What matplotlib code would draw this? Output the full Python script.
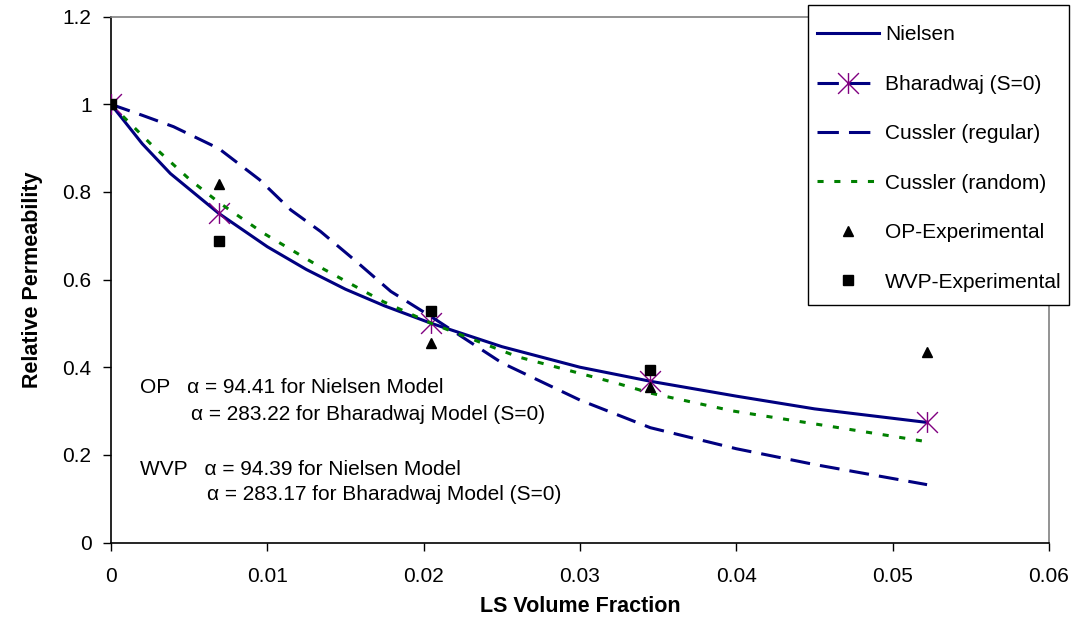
import matplotlib
matplotlib.use("Agg")
import matplotlib.pyplot as plt
from matplotlib.path import Path
from matplotlib.lines import Line2D
from matplotlib.patches import Rectangle
from matplotlib.ticker import FuncFormatter

plt.rcParams['font.family'] = ['Liberation Sans', 'DejaVu Sans']

# Model curves
nielsen_x = [0, 0.002, 0.0038, 0.0069, 0.01, 0.0125, 0.015, 0.0175, 0.0205,
             0.025, 0.03, 0.0345, 0.04, 0.045, 0.0522]
nielsen_y = [1.0, 0.91, 0.842, 0.751, 0.675, 0.623, 0.578, 0.54, 0.50,
             0.447, 0.40, 0.368, 0.334, 0.305, 0.274]

bharadwaj_x = [0, 0.0069, 0.0205, 0.0345, 0.0522]
bharadwaj_y = [1.0, 0.751, 0.500, 0.369, 0.274]

cussler_reg_x = [0, 0.002, 0.004, 0.0069, 0.0095, 0.0115, 0.0134, 0.0157,
                 0.0179, 0.0205, 0.025, 0.03, 0.0345, 0.04, 0.045, 0.0522]
cussler_reg_y = [1.0, 0.975, 0.949, 0.899, 0.828, 0.759, 0.71, 0.641,
                 0.573, 0.515, 0.41, 0.325, 0.262, 0.214, 0.178, 0.132]

cussler_rand_x = [0, 0.0025, 0.00505, 0.0069, 0.00975, 0.0136, 0.0174, 0.0205,
                  0.026, 0.0324, 0.0345, 0.0398, 0.0462, 0.0522]
cussler_rand_y = [1.0, 0.911, 0.828, 0.776, 0.706, 0.624, 0.55, 0.50,
                  0.424, 0.363, 0.341, 0.30, 0.264, 0.230]

# Experimental data
op_x = [0, 0.0069, 0.0205, 0.0345, 0.0522]
op_y = [1.0, 0.818, 0.455, 0.356, 0.435]

wvp_x = [0, 0.0069, 0.0205, 0.0345]
wvp_y = [1.0, 0.688, 0.528, 0.394]

x_ticks = [0, 0.01, 0.02, 0.03, 0.04, 0.05, 0.06]
y_ticks = [0, 0.2, 0.4, 0.6, 0.8, 1.0, 1.2]

NAVY = '#000080'
GREEN = '#008000'
PURPLE = '#800080'
LONG_DASH = (7.0, 3.3)
SHORT_DASH = (2.0, 3.5)

W, H = 1080, 619

# Excel-style star: an X with a vertical bar through it
star = Path([(-1, -1), (1, 1), (-1, 1), (1, -1), (0, -1), (0, 1)],
            [Path.MOVETO, Path.LINETO, Path.MOVETO, Path.LINETO,
             Path.MOVETO, Path.LINETO])

fig = plt.figure(figsize=(W / 100, H / 100), dpi=100)
ax = fig.add_axes([111 / W, 1 - 542.5 / H, (1049 - 111) / W,
                   (542.5 - 16.7) / H])

ax.plot(nielsen_x, nielsen_y, color=NAVY, lw=2.2, zorder=3)
ax.plot(bharadwaj_x, bharadwaj_y, linestyle='none', marker=star,
        markersize=15, markeredgecolor=PURPLE, markerfacecolor='none',
        markeredgewidth=1.0, zorder=4)
ax.plot(cussler_reg_x, cussler_reg_y, color=NAVY, lw=2.2,
        dashes=(6.5, 3.3), zorder=5)
ax.plot(cussler_rand_x, cussler_rand_y, color=GREEN, lw=2.2,
        dashes=SHORT_DASH, zorder=6)
ax.plot(op_x, op_y, linestyle='none', marker='^', markersize=7,
        color='black', zorder=7)
ax.plot(wvp_x, wvp_y, linestyle='none', marker='s', markersize=7.8,
        color='black', zorder=8)

ax.set_xlim(0, 0.06)
ax.set_ylim(0, 1.2)
ax.set_xticks(x_ticks)
ax.set_yticks(y_ticks)
fmt = FuncFormatter(lambda v, p: f"{v:g}")
ax.xaxis.set_major_formatter(fmt)
ax.yaxis.set_major_formatter(fmt)
ax.tick_params(axis='both', direction='out', length=6, width=1,
               labelsize=15, pad=8, color='black')
ax.tick_params(axis='x', pad=12)

for side in ('top', 'right'):
    ax.spines[side].set_color('#808080')
    ax.spines[side].set_linewidth(1.2)
for side in ('left', 'bottom'):
    ax.spines[side].set_color('black')
    ax.spines[side].set_linewidth(1.2)

ax.set_xlabel('LS Volume Fraction', fontsize=15.5, fontweight='bold',
              labelpad=7)
ax.set_ylabel('Relative Permeability', fontsize=15.5, fontweight='bold',
              labelpad=14)

# Fitted parameter notes
ax.text(0.00186, 0.353, 'OP   \u03b1 = 94.41 for Nielsen Model',
        fontsize=15, va='center', ha='left')
ax.text(0.0051, 0.291, '\u03b1 = 283.22 for Bharadwaj Model (S=0)',
        fontsize=15, va='center', ha='left')
ax.text(0.00186, 0.166, 'WVP   \u03b1 = 94.39 for Nielsen Model',
        fontsize=15, va='center', ha='left')
ax.text(0.00614, 0.109, '\u03b1 = 283.17 for Bharadwaj Model (S=0)',
        fontsize=15, va='center', ha='left')

# Legend box, drawn separately so its padding can differ per side
box = Rectangle((808 / W, 1 - 305 / H), (1069 - 808) / W, 300 / H,
                transform=fig.transFigure, facecolor='white',
                edgecolor='black', linewidth=1.0, zorder=4)
fig.add_artist(box)

handles = [
    Line2D([], [], color=NAVY, lw=2.2),
    Line2D([], [], color=NAVY, lw=2.2, dashes=LONG_DASH, marker=star,
           markersize=15, markeredgecolor=PURPLE, markerfacecolor='none',
           markeredgewidth=1.0),
    Line2D([], [], color=NAVY, lw=2.2, dashes=LONG_DASH),
    Line2D([], [], color=GREEN, lw=2.2, dashes=SHORT_DASH),
    Line2D([], [], linestyle='none', marker='^', markersize=7, color='black'),
    Line2D([], [], linestyle='none', marker='s', markersize=7.8, color='black'),
]
labels = ['Nielsen', 'Bharadwaj (S=0)', 'Cussler (regular)',
          'Cussler (random)', 'OP-Experimental', 'WVP-Experimental']
leg = fig.legend(handles, labels, loc='upper left',
                 bbox_to_anchor=(808 / W, 1 - 16.5 / H),
                 fontsize=15, frameon=False, numpoints=1,
                 handlelength=3.0, handletextpad=0.26,
                 labelspacing=1.46, borderpad=0.43, borderaxespad=0)
leg.set_zorder(5)

fig.savefig('out.png', dpi=100)
